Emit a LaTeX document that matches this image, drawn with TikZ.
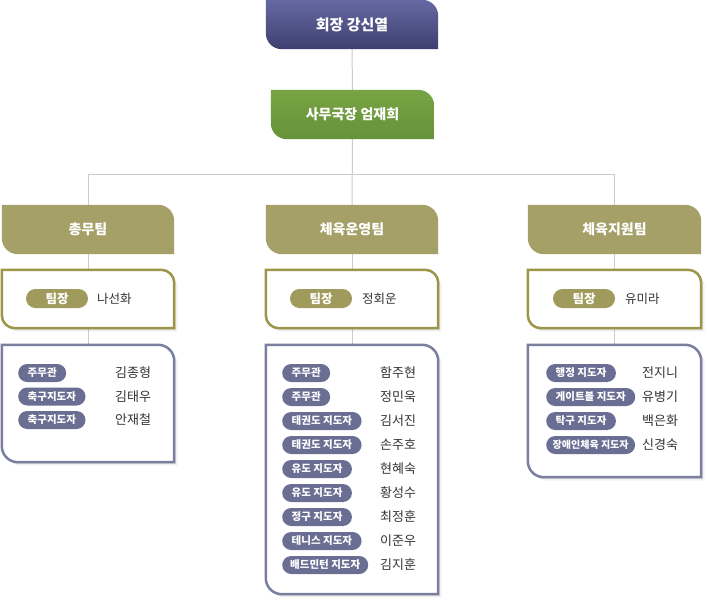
\documentclass[tikz,border=0pt]{standalone}
\usepackage{fontspec}
\setmainfont{Noto Sans CJK KR}
\usetikzlibrary{backgrounds}
\definecolor{presTop}{HTML}{6569A2}
\definecolor{presBot}{HTML}{3D406F}
\definecolor{secTop}{HTML}{78A444}
\definecolor{secBot}{HTML}{66923A}
\definecolor{olive}{HTML}{A5A068}
\definecolor{oliveLine}{HTML}{9C9649}
\definecolor{olivePill}{HTML}{A09B5D}
\definecolor{slateLine}{HTML}{7B7F9E}
\definecolor{slatePill}{HTML}{6A6E92}
\definecolor{nameText}{HTML}{333333}
\definecolor{connGray}{HTML}{CCCCCC}
% name, radius, options, dx, dy
\newcommand\orgpath[5]{%
  \path[#3] ([shift={(#4,#5)}]#1.north west)
    -- ([shift={(#4-#2,#5)}]#1.north east) arc[start angle=90,end angle=0,radius=#2]
    -- ([shift={(#4,#5)}]#1.south east)
    -- ([shift={(#4+#2,#5)}]#1.south west) arc[start angle=270,end angle=180,radius=#2]
    -- cycle;}
\newcommand\orgshadow[2]{%
  \orgpath{#1}{#2}{fill=black,opacity=0.05}{3.5}{-3.5}%
  \orgpath{#1}{#2}{fill=black,opacity=0.07}{2}{-2}}
\tikzset{
  frame/.style={inner sep=0pt,minimum height=49pt,minimum width=172pt},
  headtext/.style={frame,text=white,font=\bfseries\fontsize{14}{16}\selectfont},
  boxarea/.style={inner sep=0pt,minimum width=172pt},
  lpill/.style={fill=olivePill,text=white,rounded corners=9.5pt,minimum height=19pt,
    minimum width=62pt,inner sep=0pt,font=\bfseries\fontsize{12.5}{14}\selectfont},
  lname/.style={anchor=west,text=nameText,inner sep=0pt,font=\fontsize{12.5}{14}\selectfont},
  mpill/.style={anchor=west,fill=slatePill,text=white,rounded corners=9pt,minimum height=18pt,
    inner xsep=9.5pt,inner ysep=0pt,font=\bfseries\fontsize{10.5}{12}\selectfont},
  mname/.style={anchor=west,text=nameText,inner sep=0pt,font=\fontsize{13}{15}\selectfont},
  conn/.style={draw=connGray,line width=1pt},
}
\begin{document}
\begin{tikzpicture}[x=1pt,y=1pt]
\useasboundingbox (0,0) rectangle (708,-602);
% top nodes
\node[headtext,minimum width=172pt,font=\bfseries\fontsize{15}{17}\selectfont] (pres) at (352,-24.5) {회장 강신열};
\node[headtext,minimum width=163pt] (sec) at (352.5,-114.5) {사무국장 엄재희};
% team headers
\node[headtext] (t1) at (88,-229.5) {총무팀};
\node[headtext] (t2) at (352,-229.5) {체육운영팀};
\node[headtext,minimum width=173pt] (t3) at (614.5,-229.5) {체육지원팀};
% leader boxes
\node[boxarea,minimum height=58pt] (l1) at (88,-299) {};
\node[boxarea,minimum height=58pt] (l2) at (352,-299) {};
\node[boxarea,minimum height=58pt,minimum width=173pt] (l3) at (614.5,-299) {};
\node[lpill] (lp1) at (57,-298.5) {팀장};
\node[lname] (ln1) at (97,-298.5) {나선화};
\node[lpill] (lp2) at (321,-298.5) {팀장};
\node[lname] (ln2) at (362,-298.5) {정회운};
\node[lpill] (lp3) at (584,-298.5) {팀장};
\node[lname] (ln3) at (625,-298.5) {유미라};
% member boxes
\node[boxarea,minimum height=117pt] (m1) at (88,-403.5) {};
\node[boxarea,minimum height=249pt] (m2) at (352,-469.5) {};
\node[boxarea,minimum height=132pt,minimum width=173pt] (m3) at (614.5,-411) {};
% left members
\node[mpill] (a1) at (18,-373) {주무관};
\node[mname] (an1) at (115,-373) {김종형};
\node[mpill] (a2) at (18,-396.5) {축구지도자};
\node[mname] (an2) at (115,-396.5) {김태우};
\node[mpill] (a3) at (18,-420) {축구지도자};
\node[mname] (an3) at (115,-420) {안재철};
% middle members
\node[mpill] (b1) at (282,-373) {주무관};
\node[mname] (bn1) at (380,-373) {함주현};
\node[mpill] (b2) at (282,-397) {주무관};
\node[mname] (bn2) at (380,-397) {정민욱};
\node[mpill] (b3) at (282,-421) {태권도 지도자};
\node[mname] (bn3) at (380,-421) {김서진};
\node[mpill] (b4) at (282,-445) {태권도 지도자};
\node[mname] (bn4) at (380,-445) {손주호};
\node[mpill] (b5) at (282,-469) {유도 지도자};
\node[mname] (bn5) at (380,-469) {현혜숙};
\node[mpill] (b6) at (282,-493) {유도 지도자};
\node[mname] (bn6) at (380,-493) {황성수};
\node[mpill] (b7) at (282,-517) {정구 지도자};
\node[mname] (bn7) at (380,-517) {최정훈};
\node[mpill] (b8) at (282,-541) {테니스 지도자};
\node[mname] (bn8) at (380,-541) {이준우};
\node[mpill,inner xsep=8pt] (b9) at (282,-565) {배드민턴 지도자};
\node[mname] (bn9) at (380,-565) {김지훈};
% right members
\node[mpill] (c1) at (546,-373) {행정 지도자};
\node[mname] (cn1) at (642,-373) {전지니};
\node[mpill] (c2) at (546,-397) {게이트볼 지도자};
\node[mname] (cn2) at (642,-397) {유병기};
\node[mpill] (c3) at (546,-421) {탁구 지도자};
\node[mname] (cn3) at (642,-421) {백은화};
\node[mpill,inner xsep=6.5pt,font=\bfseries\fontsize{10}{12}\selectfont] (c4) at (546,-445) {장애인체육 지도자};
\node[mname] (cn4) at (642,-445) {신경숙};
\coordinate (bus) at (352,-174.5);
\begin{pgfonlayer}{background}
  \fill[white] (0,0) rectangle (708,-602);
  % connectors
  \draw[conn] (pres.south) -- (sec.north);
  \draw[conn] (sec.south) -- (t2.north);
  \draw[conn] (t1.north) |- (bus) -| (t3.north);
  \draw[conn] (t1.south) -- (l1.north);
  \draw[conn] (t2.south) -- (l2.north);
  \draw[conn] (t3.south) -- (l3.north);
  \draw[conn] (l1.south) -- (m1.north);
  \draw[conn] (l2.south) -- (m2.north);
  \draw[conn] (l3.south) -- (m3.north);
  % boxes
  \orgpath{pres}{16}{top color=presTop,bottom color=presBot}{0}{0}
  \orgpath{sec}{16}{top color=secTop,bottom color=secBot}{0}{0}
  \foreach \t in {t1,t2,t3}{\orgpath{\t}{16}{fill=olive}{0}{0}}
  \foreach \l in {l1,l2,l3}{%
    \orgshadow{\l}{13}
    \orgpath{\l}{13}{fill=white,draw=oliveLine,line width=2.5pt}{0}{0}}
  \foreach \m in {m1,m2,m3}{%
    \orgshadow{\m}{16}
    \orgpath{\m}{16}{fill=white,draw=slateLine,line width=2.5pt}{0}{0}}
\end{pgfonlayer}
\end{tikzpicture}
\end{document}
